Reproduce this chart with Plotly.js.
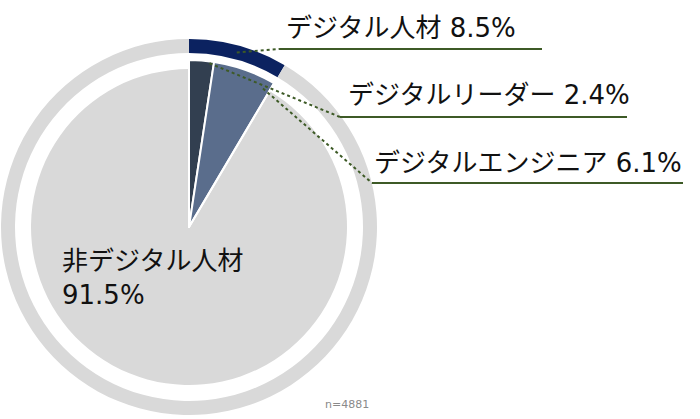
<!DOCTYPE html>
<html>
<head>
<meta charset="utf-8">
<script src="https://cdn.plot.ly/plotly-3.0.1.min.js"></script>
<style>
  html, body { margin: 0; padding: 0; background: #fff; }
  #chart { width: 700px; height: 419px; }
</style>
</head>
<body>
<div id="chart"></div>
<script>
// outer ring: digital vs non-digital
const outerLabels = ['デジタル人材', '非デジタル人材'];
const outerValues = [8.5, 91.5];

// inner pie: breakdown
const innerLabels = ['デジタルリーダー', 'デジタルエンジニア', '非デジタル人材'];
const innerValues = [2.4, 6.1, 91.5];

const sampleNote = 'n=4881';

// geometry (pixels, from top-left of the 700x419 page)
const W = 700, H = 419;
const cx = 189, cy = 227;
const rOuter = 188, rRingIn = 174, rDigital = 167, rRest = 158;

const navy = '#0b2260', slate = '#323f50', steel = '#5a6d8c', grey = '#d9d9d9';
const clear = 'rgba(0,0,0,0)';
const green = '#3d5a26';
const font = '"DejaVu Sans", "Noto Sans CJK JP", sans-serif';

function px(x) { return x / W; }
function py(y) { return 1 - y / H; }
function dom(r) {
  return { x: [px(cx - r), px(cx + r)], y: [py(cy + r), py(cy - r)] };
}
// angle (deg, clockwise from 12 o'clock) from cumulative percentage
function angleOf(pct) { return pct / 100 * 360; }
function polarPt(deg, r) {
  const a = deg * Math.PI / 180;
  return [cx + r * Math.sin(a), cy - r * Math.cos(a)];
}

const common = {
  type: 'pie', sort: false, direction: 'clockwise', rotation: 0,
  textinfo: 'none', hoverinfo: 'skip', showlegend: false
};

const ring = Object.assign({}, common, {
  labels: outerLabels, values: outerValues,
  hole: rRingIn / rOuter,
  domain: dom(rOuter),
  marker: { colors: [navy, grey], line: { width: 0 } }
});

const restPie = Object.assign({}, common, {
  labels: innerLabels, values: innerValues,
  domain: dom(rRest),
  marker: { colors: [clear, clear, grey], line: { width: 0 } }
});

const digitalPie = Object.assign({}, common, {
  labels: innerLabels, values: innerValues,
  domain: dom(rDigital),
  marker: { colors: [slate, steel, clear], line: { color: '#ffffff', width: 2 } }
});

// label positions: [text left, text centre y, underline x0, x1, y]
const labelPos = [
  [284, 28, 280, 542, 49],
  [346, 95, 340, 627, 117],
  [372, 163, 372, 683, 183]
];
const labelTexts = [
  outerLabels[0] + ' ' + outerValues[0] + '%',
  innerLabels[0] + ' ' + innerValues[0] + '%',
  innerLabels[1] + ' ' + innerValues[1] + '%'
];
// leader start points derived from slice angles
const aNavyMid = angleOf(outerValues[0]) * 0.5;
const aLeaderEnd = angleOf(innerValues[0]);
const aEngEnd = angleOf(innerValues[0] + innerValues[1]);
const leaderStarts = [
  polarPt(aNavyMid, (rOuter + rRingIn) / 2),
  polarPt(aLeaderEnd - 1.5, rDigital - 2),
  polarPt(aEngEnd - 2.5, rDigital - 10)
];

const shapes = [];
const annotations = [];
labelPos.forEach(function (p, i) {
  shapes.push({
    type: 'line', xref: 'paper', yref: 'paper',
    x0: px(p[2]), x1: px(p[3]), y0: py(p[4]), y1: py(p[4]),
    line: { color: green, width: 2 }
  });
  const s = leaderStarts[i];
  shapes.push({
    type: 'line', xref: 'paper', yref: 'paper',
    x0: px(s[0]), y0: py(s[1]), x1: px(p[2]), y1: py(p[4]),
    line: { color: green, width: 2, dash: 'dot' }
  });
  annotations.push({
    xref: 'paper', yref: 'paper', x: px(p[0]), y: py(p[1]),
    xanchor: 'left', yanchor: 'middle', showarrow: false,
    text: labelTexts[i], font: { family: font, size: 26, color: '#111' }
  });
});

annotations.push({
  xref: 'paper', yref: 'paper', x: px(60), y: py(278),
  xanchor: 'left', yanchor: 'middle', align: 'left', showarrow: false,
  text: outerLabels[1] + '<br>' + outerValues[1] + '%',
  font: { family: font, size: 26, color: '#111' }
});
annotations.push({
  xref: 'paper', yref: 'paper', x: px(347), y: py(404),
  xanchor: 'center', yanchor: 'middle', showarrow: false,
  text: sampleNote, font: { family: font, size: 11, color: '#8a8a8a' }
});

const layout = {
  width: W, height: H,
  margin: { l: 0, r: 0, t: 0, b: 0 },
  paper_bgcolor: '#ffffff',
  shapes: shapes,
  annotations: annotations
};

Plotly.newPlot('chart', [ring, restPie, digitalPie], layout, { staticPlot: true });
</script>
</body>
</html>
